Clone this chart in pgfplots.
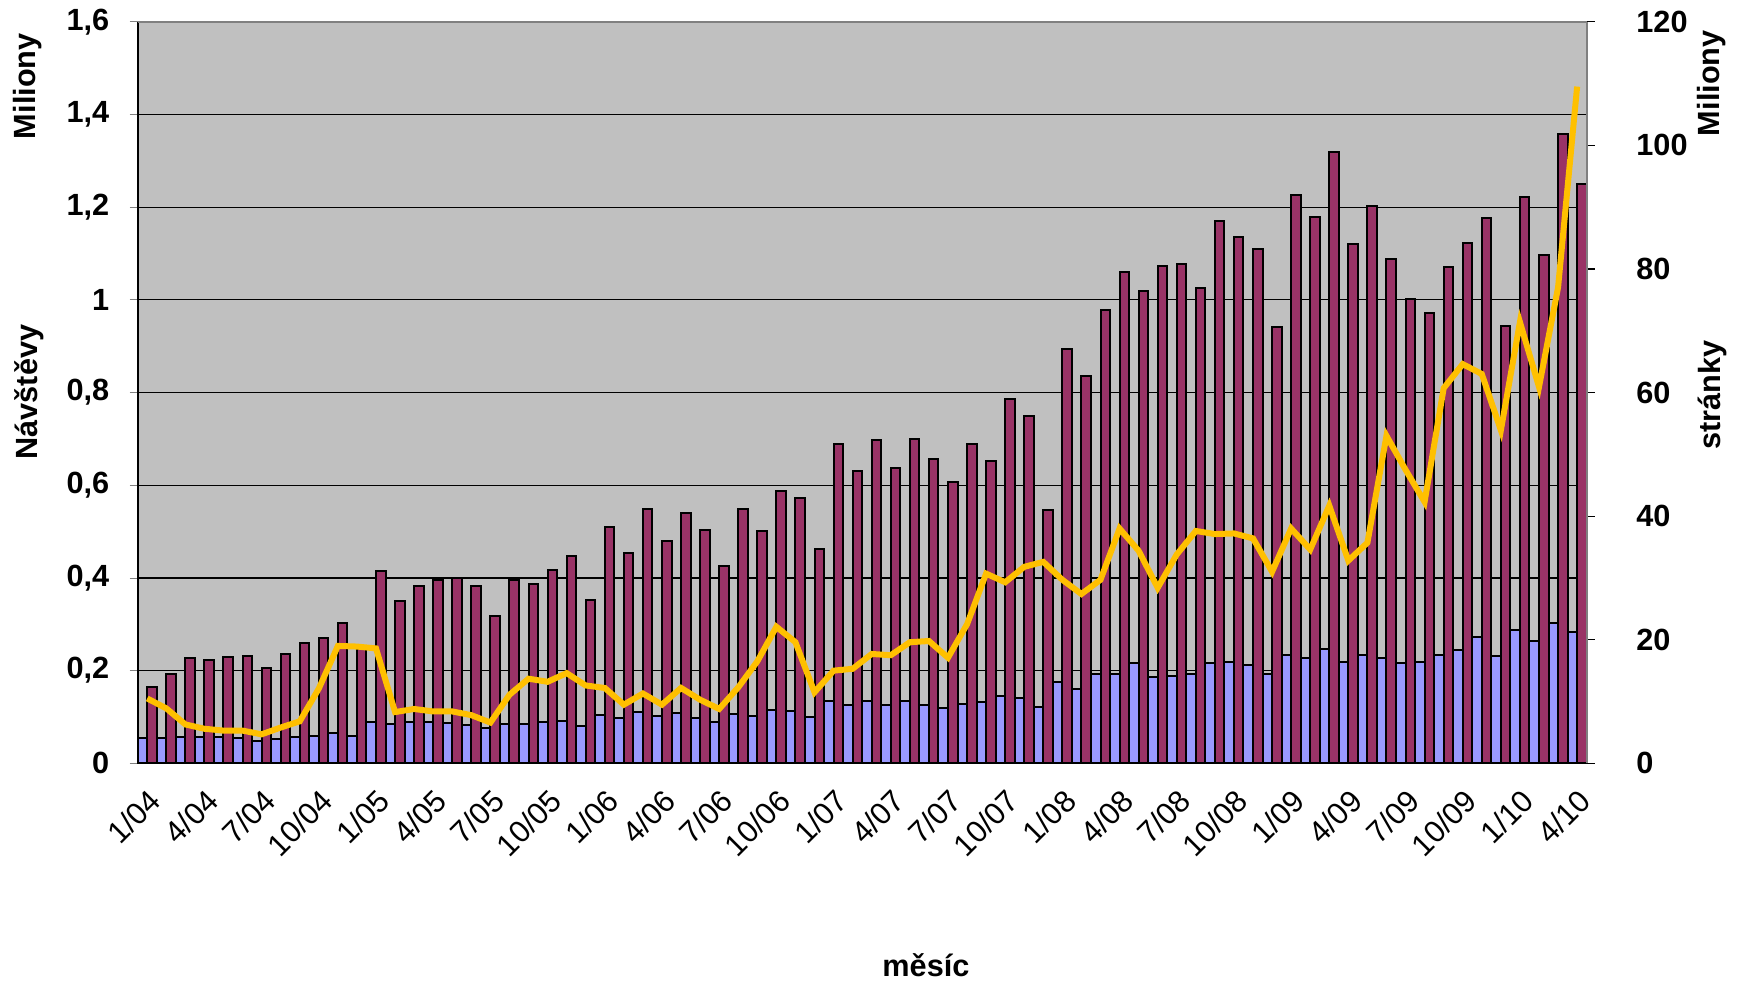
\documentclass[border=0pt]{standalone}
\usepackage{fontspec}
\setmainfont{Liberation Sans}
\usepackage{pgfplots}
\usepackage{pgfplotstable}
\pgfplotsset{compat=1.18}

\definecolor{plotgray}{RGB}{192,192,192}
\definecolor{visblue}{RGB}{153,153,255}
\definecolor{pagered}{RGB}{153,51,102}
\definecolor{lineyel}{RGB}{255,192,0}

% x = month (1 = 1/04 ... 76 = 4/10); blue, maroon in millions (left axis); line in millions (right axis)
\pgfplotstableread{
x blue maroon line
1 0.054 0.164 10.5
2 0.055 0.192 8.9
3 0.056 0.227 6.3
4 0.056 0.223 5.6
5 0.056 0.230 5.3
6 0.054 0.231 5.3
7 0.048 0.205 4.7
8 0.053 0.237 5.8
9 0.057 0.259 6.8
10 0.059 0.270 12.1
11 0.065 0.302 19.0
12 0.060 0.250 18.9
13 0.090 0.416 18.6
14 0.085 0.350 8.3
15 0.089 0.383 8.8
16 0.090 0.395 8.4
17 0.087 0.399 8.4
18 0.083 0.382 7.8
19 0.076 0.317 6.6
20 0.085 0.396 11.1
21 0.084 0.386 13.7
22 0.090 0.417 13.2
23 0.092 0.447 14.6
24 0.080 0.353 12.6
25 0.104 0.510 12.2
26 0.097 0.453 9.5
27 0.111 0.548 11.3
28 0.103 0.479 9.5
29 0.108 0.540 12.2
30 0.098 0.503 10.3
31 0.090 0.426 8.8
32 0.107 0.548 12.3
33 0.103 0.501 16.5
34 0.115 0.588 22.1
35 0.112 0.573 19.6
36 0.100 0.463 11.5
37 0.134 0.690 15.0
38 0.127 0.631 15.3
39 0.134 0.698 17.7
40 0.127 0.637 17.5
41 0.134 0.700 19.6
42 0.125 0.657 19.8
43 0.120 0.608 17.1
44 0.128 0.690 22.5
45 0.132 0.653 30.7
46 0.145 0.786 29.3
47 0.142 0.749 31.8
48 0.122 0.546 32.6
49 0.175 0.894 29.7
50 0.161 0.835 27.4
51 0.193 0.979 29.7
52 0.193 1.061 38.0
53 0.217 1.020 34.4
54 0.186 1.072 28.4
55 0.188 1.078 33.8
56 0.192 1.026 37.6
57 0.217 1.169 37.1
58 0.219 1.135 37.2
59 0.213 1.109 36.4
60 0.192 0.942 31.0
61 0.234 1.227 38.0
62 0.228 1.178 34.6
63 0.247 1.318 41.7
64 0.219 1.121 32.8
65 0.233 1.202 35.7
66 0.227 1.089 53.0
67 0.217 1.001 47.5
68 0.218 0.972 42.3
69 0.234 1.071 60.7
70 0.245 1.123 64.6
71 0.272 1.177 63.0
72 0.231 0.944 53.9
73 0.288 1.221 71.4
74 0.265 1.097 60.9
75 0.302 1.358 77.0
76 0.284 1.249 109.5
}\data

\begin{document}
\begin{tikzpicture}
\pgfplotsset{
  every axis/.append style={
    width=434.7pt, height=222.5pt, scale only axis,
    xmin=0.5, xmax=76.5,
    /pgf/number format/assume math mode=true,
    tick align=outside,
    clip=false,
  },
}
\begin{axis}[
    ymin=0, ymax=1.6,
    ytick={0,0.2,...,1.6},
    /pgf/number format/use comma,
    yticklabel style={font=\bfseries\fontsize{9.2}{11}\selectfont, xshift=-2.6pt},
    axis background/.style={fill=plotgray},
    axis x line*=bottom, axis y line*=left,
    axis line style={-, black, line width=0.5pt},
    ymajorgrids, grid style={black, line width=0.35pt},
    major tick length=2.4pt,
    xtick={1,4,...,76},
    x tick style={draw=none},
    minor xtick={0.5,1.5,...,76.5},
    minor x tick style={black, line width=0.35pt},
    minor tick length=2.6pt,
    xticklabels={1/04,4/04,7/04,10/04,1/05,4/05,7/05,10/05,1/06,4/06,7/06,10/06,
      1/07,4/07,7/07,10/07,1/08,4/08,7/08,10/08,1/09,4/09,7/09,10/09,1/10,4/10},
    xticklabel style={rotate=45, anchor=north east, font=\fontsize{9.2}{11}\selectfont, yshift=0pt},
    ybar=0pt, bar width=2.86pt,
  ]
  \addplot[ybar, fill=visblue, draw=black, line width=0.6pt] table[x=x, y=blue] {\data};
  \addplot[ybar, fill=pagered, draw=black, line width=0.6pt] table[x=x, y=maroon] {\data};
  \draw[gray, line width=0.5pt] (rel axis cs:0,1) -- (rel axis cs:1,1);
  \node[rotate=90, font=\bfseries\fontsize{9.2}{11}\selectfont] at (rel axis cs:-0.0757,0.913) {Miliony};
  \node[rotate=90, font=\bfseries\fontsize{9.2}{11}\selectfont] at (rel axis cs:-0.075,0.5007) {Návštěvy};
  \node[font=\bfseries\fontsize{9.2}{11}\selectfont] at (rel axis cs:0.544,-0.272) {měsíc};
  \coordinate (bl) at (rel axis cs:-0.09503,-0.29356);
  \coordinate (tr) at (rel axis cs:1.1079,1.02926);
\end{axis}
\begin{axis}[
    ymin=0, ymax=120,
    ytick={0,20,...,120},
    axis y line*=right, axis x line=none,
    axis line style={-, gray, line width=0.5pt},
    y tick style={black, line width=0.35pt},
    major tick length=2.4pt,
    yticklabel style={font=\bfseries\fontsize{9.2}{11}\selectfont, anchor=west, xshift=9pt},
  ]
  \addplot[lineyel, line width=1.8pt, mark=none] table[x=x, y=line] {\data};
  \node[rotate=90, font=\bfseries\fontsize{9.2}{11}\selectfont] at (rel axis cs:1.0865,0.917) {Miliony};
  \node[rotate=90, font=\bfseries\fontsize{9.2}{11}\selectfont] at (rel axis cs:1.0865,0.4967) {stránky};
\end{axis}
\pgfresetboundingbox
\useasboundingbox (bl) rectangle (tr);
\end{tikzpicture}
\end{document}
